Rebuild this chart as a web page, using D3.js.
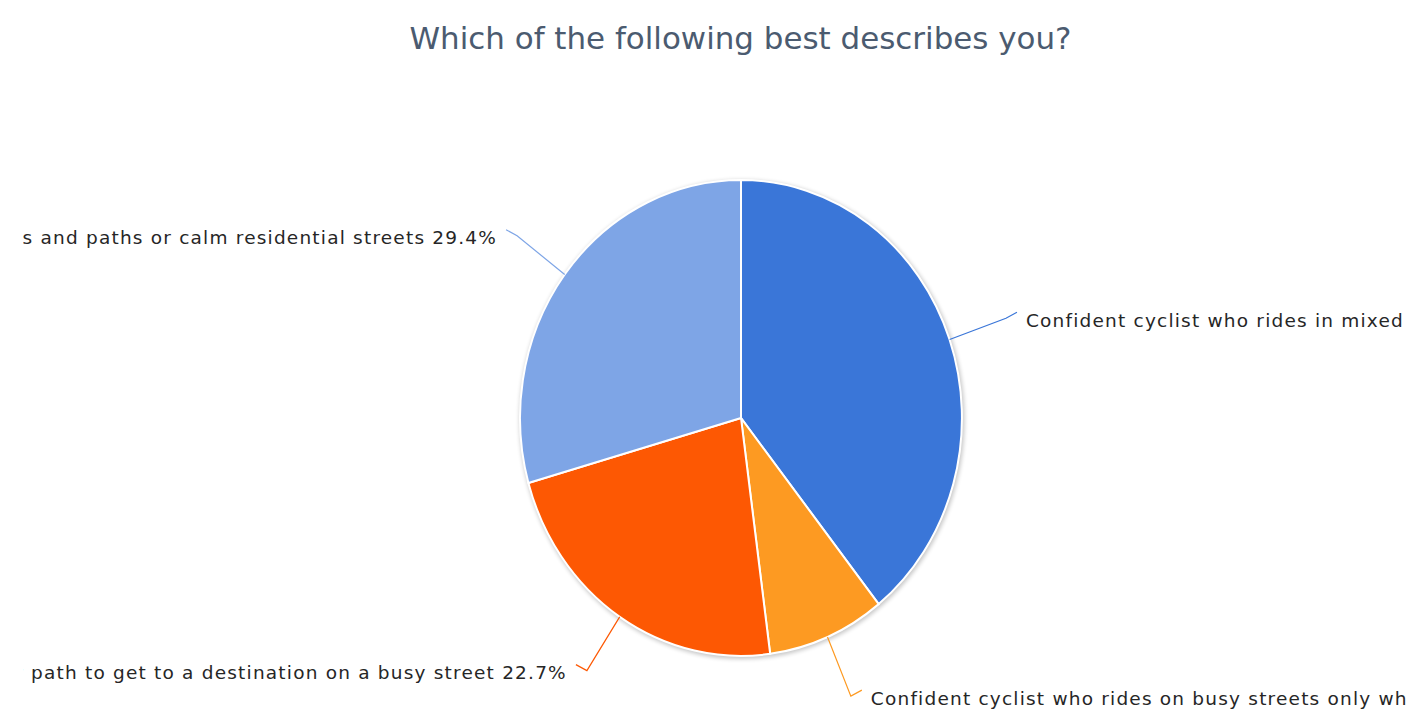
<!DOCTYPE html>
<html>
<head>
<meta charset="utf-8">
<script src="https://cdn.jsdelivr.net/npm/d3@7/dist/d3.min.js"></script>
<style>
  html, body { margin: 0; padding: 0; background: #fff; overflow: hidden; }
  svg { display: block; }
</style>
</head>
<body>
<svg id="chart" width="1421" height="718"></svg>
<script>
// Survey answers, in drawing order (clockwise from 12 o'clock)
const categories = [
  "Confident cyclist who rides in mixed traffic",
  "Confident cyclist who rides on busy streets only when there is a bike lane",
  "Interested cyclist who will ride a trail or path to get to a destination on a busy street",
  "Interested cyclist who prefers trails and paths or calm residential streets"
];
const shares = [39.3, 8.6, 22.7, 29.4];
const colors = ["#3a76d8", "#fd9a22", "#fd5803", "#7ea5e6"];
const titleText = "Which of the following best describes you?";

const W = 1421, H = 718;
const cx = 741, cy = 418, rx = 221, ry = 238;

const svg = d3.select("#chart");

const defs = svg.append("defs");
// soft shadow under the pie
const f = defs.append("filter").attr("id", "pieShadow")
  .attr("filterUnits", "userSpaceOnUse")
  .attr("x", cx - rx - 20).attr("y", cy - ry - 20)
  .attr("width", 2 * rx + 40).attr("height", 2 * ry + 40);
f.append("feGaussianBlur").attr("stdDeviation", 2.2);
// labels are clipped to the chart area
defs.append("clipPath").attr("id", "plotClip")
  .append("rect").attr("x", 23).attr("y", 0).attr("width", 1383).attr("height", H);

svg.append("text")
  .attr("x", W / 2 + 30).attr("y", 38)
  .attr("text-anchor", "middle").attr("dominant-baseline", "central")
  .attr("font-family", "DejaVu Sans, sans-serif")
  .attr("font-size", 31)
  .attr("textLength", 662).attr("lengthAdjust", "spacingAndGlyphs")
  .attr("fill", "#4b5b70")
  .text(titleText);

const data = categories.map((c, i) => ({ label: c, value: shares[i], color: colors[i] }));
const pie = d3.pie().sort(null).value(d => d.value);
const arcs = pie(data);
const arc = d3.arc().innerRadius(0).outerRadius(1);

// shadow ellipse behind the pie
svg.append("ellipse")
  .attr("cx", cx + 1).attr("cy", cy + 1.5)
  .attr("rx", rx + 1.5).attr("ry", ry + 1.5)
  .attr("fill", "#000").attr("opacity", 0.22)
  .attr("filter", "url(#pieShadow)");

// unit-radius pie stretched to the ellipse
const pieG = svg.append("g")
  .attr("transform", `translate(${cx},${cy}) scale(${rx},${ry})`);
pieG.selectAll("path").data(arcs).join("path")
  .attr("d", arc)
  .attr("fill", d => d.data.color)
  .attr("stroke", "#fff")
  .attr("stroke-width", 2)
  .attr("vector-effect", "non-scaling-stroke");

// point on the ellipse at angle a (radians, clockwise from top), radius factor k
const pt = (a, k) => [cx + rx * k * Math.sin(a), cy - ry * k * Math.cos(a)];

const labelG = svg.append("g").attr("clip-path", "url(#plotClip)");
arcs.forEach(d => {
  const mid = (d.startAngle + d.endAngle) / 2;
  const right = Math.sin(mid) > 0;
  const A = pt(mid, 1.0);
  const B = pt(mid, 1.27);
  const C = [B[0] + (right ? 11 : -11), B[1] - 6];
  labelG.append("path")
    .attr("d", d3.line()([A, B, C]))
    .attr("fill", "none")
    .attr("stroke", d.data.color)
    .attr("stroke-width", 1.2);
  labelG.append("text")
    .attr("x", C[0] + (right ? 9 : -9))
    .attr("y", C[1] + 8)
    .attr("text-anchor", right ? "start" : "end")
    .attr("dominant-baseline", "central")
    .attr("font-family", "DejaVu Sans, sans-serif")
    .attr("font-size", 18.5)
    .attr("letter-spacing", 1.2)
    .attr("fill", "#262626")
    .text(`${d.data.label} ${d3.format(".1f")(d.data.value)}%`);
});
</script>
</body>
</html>
